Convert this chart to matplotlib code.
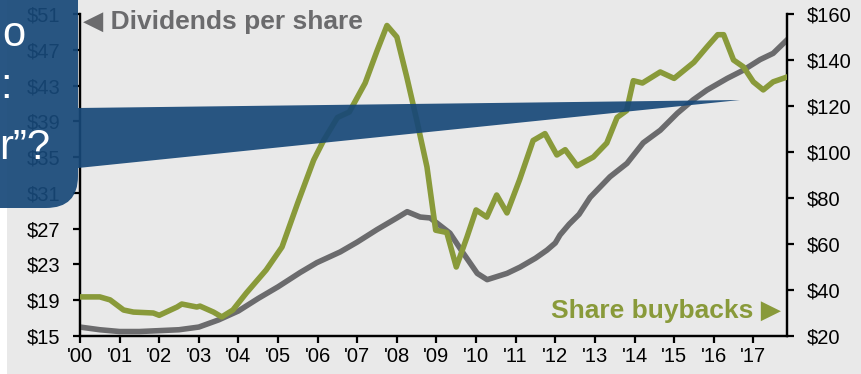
import matplotlib
matplotlib.use("Agg")
import matplotlib.pyplot as plt
from matplotlib.patches import FancyBboxPatch, Polygon, Rectangle

# S&P 500: dividends per share (left axis) vs quarterly share buybacks (right axis, $bn)
DIV_YEARS = [2000.0, 2000.5, 2001.0, 2001.5, 2002.0, 2002.5, 2003.0, 2003.5, 2003.8,
             2004.0, 2004.5, 2005.0, 2005.56, 2005.98, 2006.57, 2007.0, 2007.5, 2008.0,
             2008.26, 2008.59, 2008.84, 2009.02, 2009.34, 2009.67, 2010.03, 2010.28,
             2010.78, 2011.11, 2011.5, 2011.79, 2012.0, 2012.12, 2012.35, 2012.6, 2012.88,
             2013.38, 2013.81, 2014.22, 2014.65, 2015.08, 2015.48, 2015.83, 2016.34,
             2016.74, 2017.17, 2017.5, 2017.85]
DIVIDENDS = [16.0, 15.7, 15.5, 15.5, 15.6, 15.7, 16.0, 16.8, 17.4,
             17.8, 19.2, 20.5, 22.1, 23.2, 24.4, 25.5, 26.9, 28.2,
             28.9, 28.3, 28.2, 27.6, 26.5, 24.3, 22.0, 21.3,
             22.0, 22.7, 23.7, 24.6, 25.4, 26.3, 27.5, 28.6, 30.5,
             32.8, 34.3, 36.6, 38.0, 39.9, 41.4, 42.5, 43.8,
             44.7, 45.9, 46.6, 48.1]

BB_YEARS = [2000.0, 2000.5, 2000.76, 2001.1, 2001.35, 2001.85, 2002.0, 2002.45, 2002.57,
            2002.95, 2003.03, 2003.37, 2003.58, 2003.86, 2004.2, 2004.7, 2005.1, 2005.5,
            2005.9, 2006.15, 2006.5, 2006.8, 2007.2, 2007.5, 2007.75, 2008.0, 2008.25,
            2008.5, 2008.76, 2008.98, 2009.26, 2009.5, 2009.77, 2010.0, 2010.27, 2010.52,
            2010.78, 2011.1, 2011.44, 2011.74, 2012.04, 2012.25, 2012.55, 2012.96, 2013.3,
            2013.56, 2013.8, 2013.97, 2014.2, 2014.65, 2015.0, 2015.5, 2015.83, 2016.1,
            2016.25, 2016.5, 2016.75, 2017.0, 2017.25, 2017.5, 2017.85]
BUYBACKS = [37.0, 37.0, 35.7, 31.3, 30.4, 30.0, 29.0, 32.6, 33.9,
            32.6, 33.0, 30.4, 28.3, 31.3, 38.7, 48.7, 58.7, 78.0,
            96.5, 105.0, 115.0, 117.4, 130.0, 144.0, 155.0, 150.0, 132.6,
            114.0, 93.5, 66.0, 65.0, 50.0, 63.0, 74.8, 71.7, 81.3,
            73.5, 88.0, 105.0, 108.0, 98.7, 101.0, 94.0, 97.8, 103.9,
            115.0, 118.0, 131.0, 130.0, 134.8, 132.0, 139.0, 145.7, 151.0,
            151.0, 140.0, 137.0, 130.5, 127.0, 130.5, 132.6]

YEAR_TICKS = list(range(2000, 2018))
YEAR_LABELS = [f"'{y % 100:02d}" for y in YEAR_TICKS]
LEFT_TICKS = list(range(15, 52, 4))
RIGHT_TICKS = list(range(20, 161, 20))

BG = "#e9e9e9"
GRAY = "#6b6b6d"
GREEN = "#899a3a"
NAVY = "#174878"

plt.rcParams["font.family"] = ["Liberation Sans", "DejaVu Sans"]

W, H = 861, 374
fig = plt.figure(figsize=(W / 100, H / 100), dpi=100, facecolor=BG)
ax = fig.add_axes([80 / W, 38 / H, 707 / W, 322 / H])
ax.set_facecolor(BG)
ax2 = ax.twinx()

ax.plot(DIV_YEARS, DIVIDENDS, color=GRAY, lw=4, solid_joinstyle="round", zorder=3)
ax2.plot(BB_YEARS, BUYBACKS, color=GREEN, lw=4, solid_joinstyle="round", zorder=3)

ax.set_xlim(2000, 2017.85)
ax.set_ylim(15, 51)
ax2.set_ylim(20, 160)
ax.set_xticks(YEAR_TICKS)
ax.set_xticklabels(YEAR_LABELS)
ax.set_yticks(LEFT_TICKS)
ax.set_yticklabels([f"${v}" for v in LEFT_TICKS])
ax2.set_yticks(RIGHT_TICKS)
ax2.set_yticklabels([f"${v}" for v in RIGHT_TICKS])

for a in (ax, ax2):
    a.spines["top"].set_visible(False)
    for s in ("left", "right", "bottom"):
        a.spines[s].set_linewidth(1.6)
        a.spines[s].set_color("black")
ax.tick_params(axis="x", direction="out", length=5, width=1.6, pad=3, labelsize=14.5)
ax.tick_params(axis="y", direction="out", length=5, width=1.6, pad=9, labelsize=14.5)
ax2.tick_params(axis="y", direction="out", length=5, width=1.6, pad=9, labelsize=14.5)

fig.text(83 / W, 1 - 22 / H, "\u25c0 Dividends per share", ha="left", va="center",
         fontsize=19, fontweight="bold", color=GRAY)
fig.text(781 / W, 1 - 311 / H, "Share buybacks \u25b6", ha="right", va="center",
         fontsize=19, fontweight="bold", color=GREEN)

# white margin strip on the far left, under the callout
fig.patches.append(Rectangle((0, 0), 0.07, 3.74, transform=fig.dpi_scale_trans,
                             facecolor="white", edgecolor="none", zorder=5))

# callout box and its pointer, in inches (1 in = 100 px)
box = FancyBboxPatch((-0.6, 1.66), 1.38, 2.6, boxstyle="round,pad=0,rounding_size=0.32",
                     transform=fig.dpi_scale_trans, facecolor=NAVY, edgecolor="none",
                     alpha=0.92, zorder=10)
fig.patches.append(box)
wedge = Polygon([(0.78, 2.66), (7.40, 2.74), (0.78, 2.06)], closed=True,
                transform=fig.dpi_scale_trans, facecolor=NAVY, edgecolor="none",
                alpha=0.92, zorder=10)
fig.patches.append(wedge)

for x, y, s in [(25, 35, "o"), (12, 87, ":"), (50, 148, "r\u201d?")]:
    fig.text(x / W, 1 - y / H, s, ha="right", va="center", fontsize=30,
             color="white", zorder=11)

fig.savefig("out.png", dpi=100, facecolor=BG)
